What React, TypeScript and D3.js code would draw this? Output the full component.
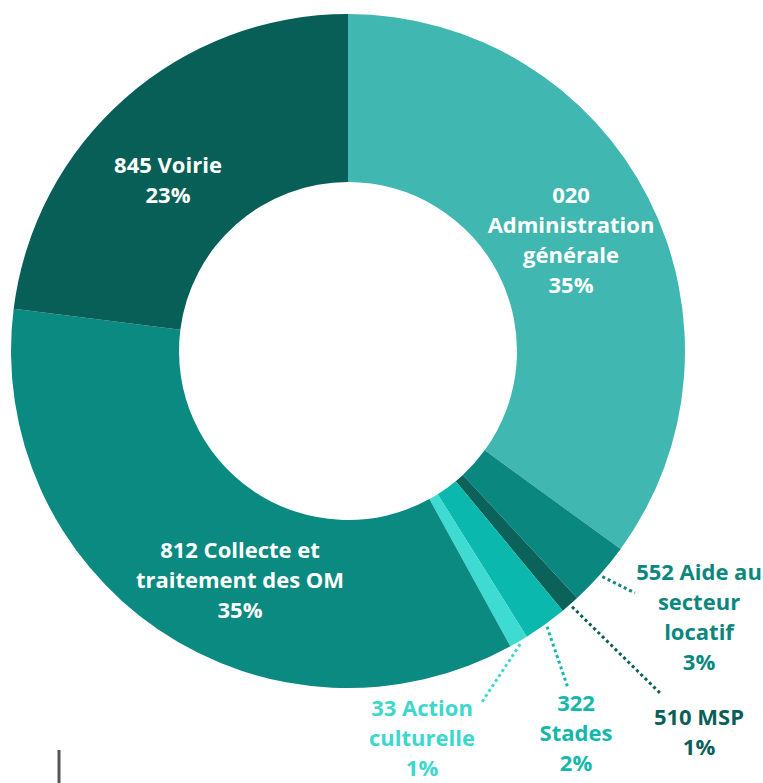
import * as d3 from "d3";

const W = 763;
const H = 783;
const CX = 348;
const CY = 351;
const R_OUT = 337;
const R_IN = 169;

// data, clockwise from 12 o'clock
const codes = ["020", "552", "510", "322", "33", "812", "845"];
const names = [
  ["020", "Administration", "générale"],
  ["552 Aide au", "secteur", "locatif"],
  ["510 MSP"],
  ["322", "Stades"],
  ["33 Action", "culturelle"],
  ["812 Collecte et", "traitement des OM"],
  ["845 Voirie"],
];
const shares = [35.0, 3.1, 0.9, 2.1, 0.9, 35.0, 23.0];
const pctLabels = ["35%", "3%", "1%", "2%", "1%", "35%", "23%"];

const sliceColors = ["#40b7b0", "#0a877e", "#0a625b", "#0ab8ad", "#3ddbd2", "#0a8a80", "#075f58"];
const textColors = ["#ffffff", "#0b877e", "#0a5f58", "#14b8ab", "#3dd8cc", "#ffffff", "#ffffff"];

// label layout: centre x, first baseline y, optional leader end
const labelPos: Record<string, { x: number; y: number; end?: [number, number] }> = {
  "020": { x: 571, y: 203 },
  "552": { x: 699, y: 580, end: [635, 593] },
  "510": { x: 699, y: 725, end: [660, 693] },
  "322": { x: 576, y: 711, end: [568, 688] },
  "33": { x: 422, y: 716, end: [482, 702] },
  "812": { x: 240, y: 558 },
  "845": { x: 168, y: 173 },
};

const LINE_H = 30;

export default function App() {
  const rows = codes.map((c, i) => ({ code: c, value: shares[i], i }));
  const pie = d3.pie<(typeof rows)[number]>().sort(null).value((d) => d.value);
  const arcs = pie(rows);
  const arc = d3.arc<d3.PieArcDatum<(typeof rows)[number]>>().innerRadius(R_IN).outerRadius(R_OUT);

  return (
    <svg
      width={W}
      height={H}
      style={{ position: "absolute", left: 0, top: 0, background: "#fff" }}
      fontFamily="'Open Sans', sans-serif"
    >
      <g transform={`translate(${CX},${CY})`}>
        {arcs.map((a) => (
          <path key={a.data.code} d={arc(a) || ""} fill={sliceColors[a.data.i]} />
        ))}
      </g>
      {arcs.map((a) => {
        const pos = labelPos[a.data.code];
        if (!pos.end) return null;
        const mid = (a.startAngle + a.endAngle) / 2;
        const r = R_OUT + 3;
        const sx = CX + r * Math.sin(mid);
        const sy = CY - r * Math.cos(mid);
        return (
          <line
            key={"l" + a.data.code}
            x1={sx}
            y1={sy}
            x2={pos.end[0]}
            y2={pos.end[1]}
            stroke={textColors[a.data.i]}
            strokeWidth={3}
            strokeDasharray="3 3"
          />
        );
      })}
      {arcs.map((a) => {
        const pos = labelPos[a.data.code];
        const lines = [...names[a.data.i], pctLabels[a.data.i]];
        return (
          <text
            key={"t" + a.data.code}
            x={pos.x}
            y={pos.y}
            textAnchor="middle"
            fontSize={22}
            fontWeight={700}
            fill={textColors[a.data.i]}
          >
            {lines.map((s, k) => (
              <tspan key={k} x={pos.x} y={pos.y + k * LINE_H}>
                {s}
              </tspan>
            ))}
          </text>
        );
      })}
      <line x1={59} x2={59} y1={750} y2={H} stroke="#555" strokeWidth={3} />
    </svg>
  );
}
